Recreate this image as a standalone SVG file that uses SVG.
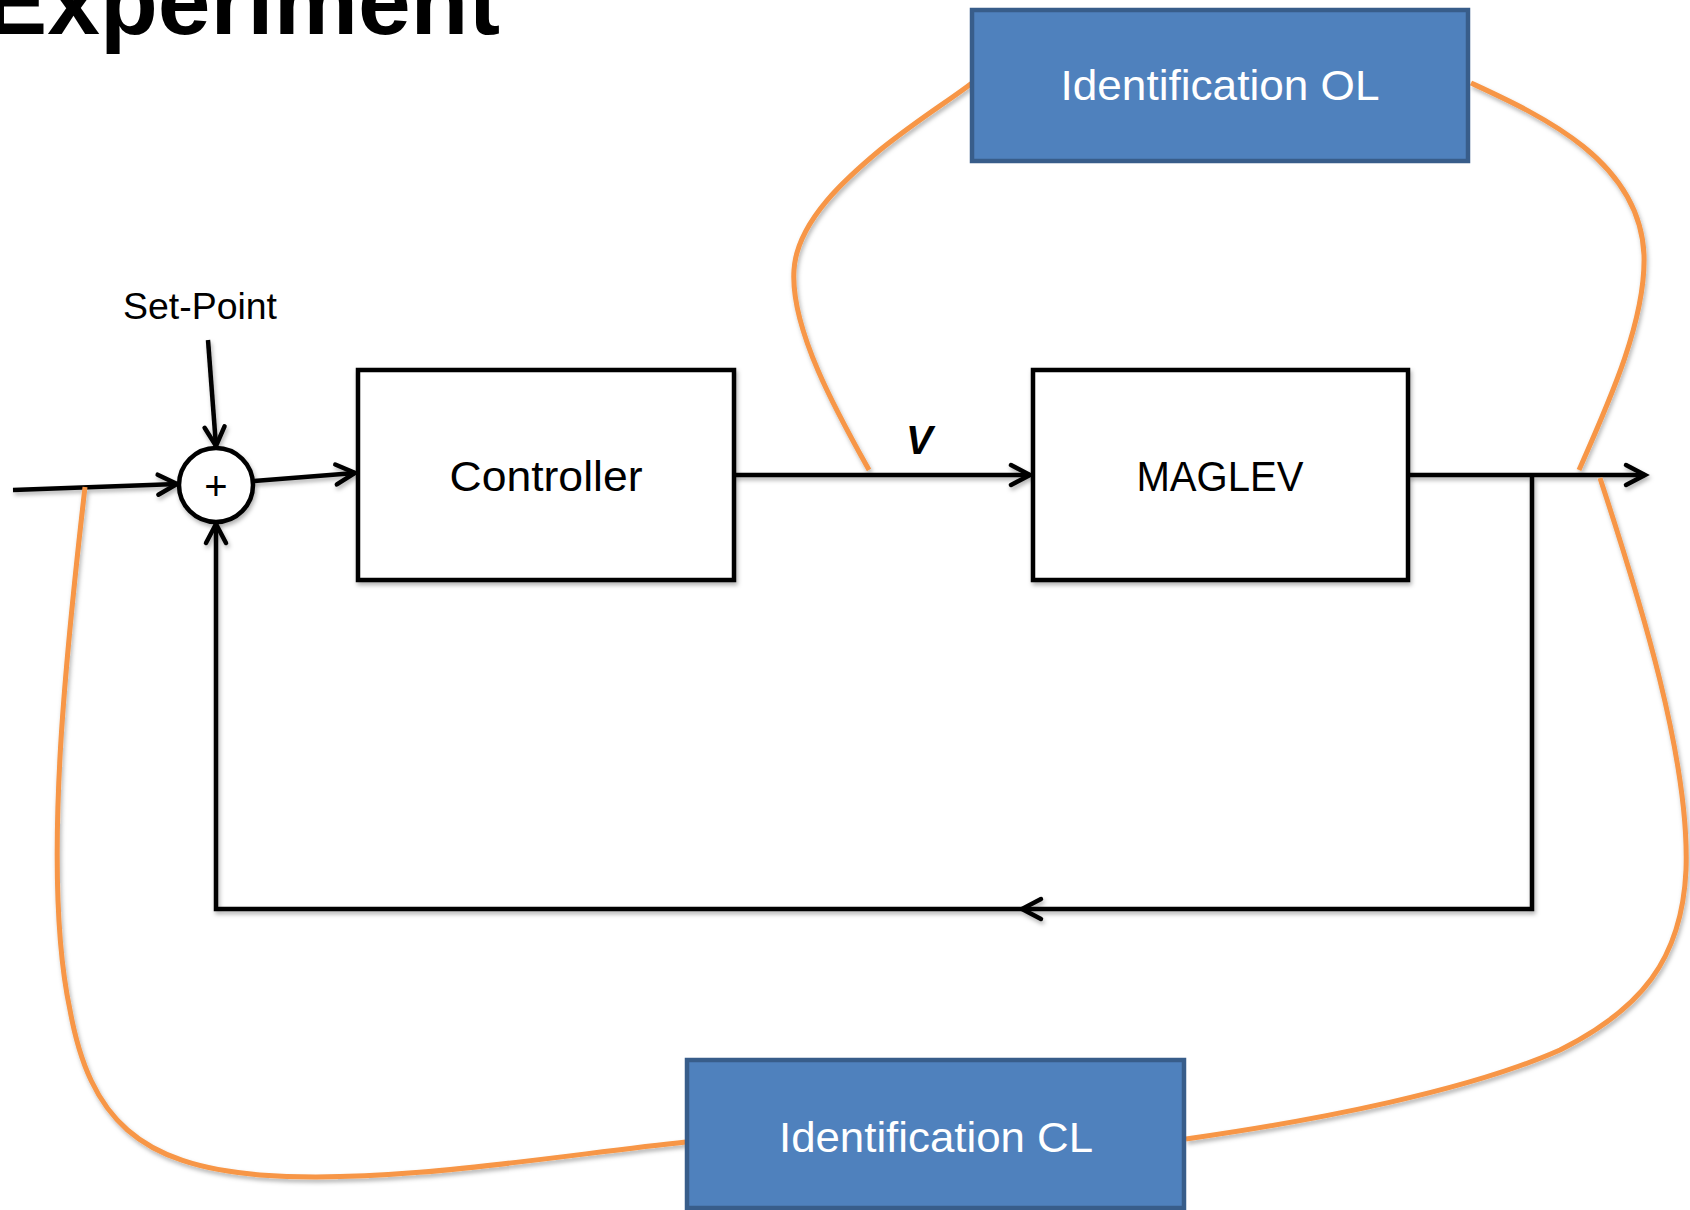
<svg xmlns="http://www.w3.org/2000/svg" width="1690" height="1210" viewBox="0 0 1690 1210">
<style>
.t{font-family:"Liberation Sans",Arial,sans-serif;fill:#000}
.w{font-family:"Liberation Sans",Arial,sans-serif;fill:#fff}
.blk{fill:#fff;stroke:#000;stroke-width:4.5}
.blue{fill:#4F81BD;stroke:#385D8A;stroke-width:4.5}
.ln{fill:none;stroke:#000;stroke-width:4.5;stroke-linejoin:miter}
.or{fill:none;stroke:#F79646;stroke-width:5}
</style>
<defs>
<filter id="sh" x="-10%" y="-10%" width="120%" height="120%">
<feDropShadow dx="1.5" dy="3" stdDeviation="2" flood-color="#000" flood-opacity="0.3"/>
</filter>
<marker id="ar" markerUnits="userSpaceOnUse" markerWidth="30" markerHeight="30" viewBox="-25 -15 30 30" refX="0" refY="0" orient="auto">
<path d="M-19,-10 L0,0 L-19,10" fill="none" stroke="#000" stroke-width="4.5" stroke-linecap="round" stroke-linejoin="miter"/>
</marker>
</defs>

<text class="t" x="-16" y="34" font-size="94" font-weight="bold" textLength="516" lengthAdjust="spacingAndGlyphs">Experiment</text>

<g id="connectors" filter="url(#sh)">
<path class="ln" d="M208,340 L216,446" marker-end="url(#ar)"/>
<path class="ln" d="M13,490 L177,484" marker-end="url(#ar)"/>
<path class="ln" d="M254,481 L355,473" marker-end="url(#ar)"/>
<path class="ln" d="M734,475 L1030,475" marker-end="url(#ar)"/>
<path class="ln" d="M1408,475 L1645,475" marker-end="url(#ar)"/>
<path class="ln" d="M1532,475 L1532,909 L1022,909" marker-end="url(#ar)"/>
<path class="ln" d="M1022,909 L216,909 L216,524" marker-end="url(#ar)"/>
<path class="or" d="M869,470 C840,418 790,330 794,270 C797,220 850,175 880,150 C920,118 950,100 972,83"/>
<path class="or" d="M1471,83 C1540,115 1640,160 1644,255 C1646,320 1610,400 1579,470"/>
<path class="or" d="M1600,478 C1640,600 1690,760 1686,870 C1682,960 1640,1010 1560,1050 C1470,1090 1320,1120 1186,1139"/>
<path class="or" d="M85,487 C70,620 40,870 70,1010 C90,1120 140,1165 260,1175 C390,1185 560,1155 686,1142"/>
</g>

<g id="sum">
<circle cx="216" cy="485" r="37" class="blk" filter="url(#sh)"/>
<text class="t" x="216" y="500" font-size="40" text-anchor="middle">+</text>
</g>

<g id="setpoint">
<text class="t" x="123" y="319" font-size="37" textLength="154" lengthAdjust="spacingAndGlyphs">Set-Point</text>
</g>

<g id="controller">
<rect x="358" y="370" width="376" height="210" class="blk" filter="url(#sh)"/>
<text class="t" x="546" y="491" font-size="43" text-anchor="middle" textLength="193" lengthAdjust="spacingAndGlyphs">Controller</text>
</g>

<g id="maglev">
<rect x="1033" y="370" width="375" height="210" class="blk" filter="url(#sh)"/>
<text class="t" x="1220" y="491" font-size="43" text-anchor="middle" textLength="167" lengthAdjust="spacingAndGlyphs">MAGLEV</text>
</g>

<g id="v-label">
<text class="t" x="906" y="454" font-size="40" font-weight="bold" font-style="italic">V</text>
</g>

<g id="id-ol">
<rect x="972" y="10" width="496" height="151" class="blue"/>
<text class="w" x="1220" y="100" font-size="43" text-anchor="middle" textLength="319" lengthAdjust="spacingAndGlyphs">Identification OL</text>
</g>

<g id="id-cl">
<rect x="687" y="1060" width="497" height="148" class="blue"/>
<text class="w" x="936" y="1152" font-size="43" text-anchor="middle" textLength="314" lengthAdjust="spacingAndGlyphs">Identification CL</text>
</g>
</svg>
